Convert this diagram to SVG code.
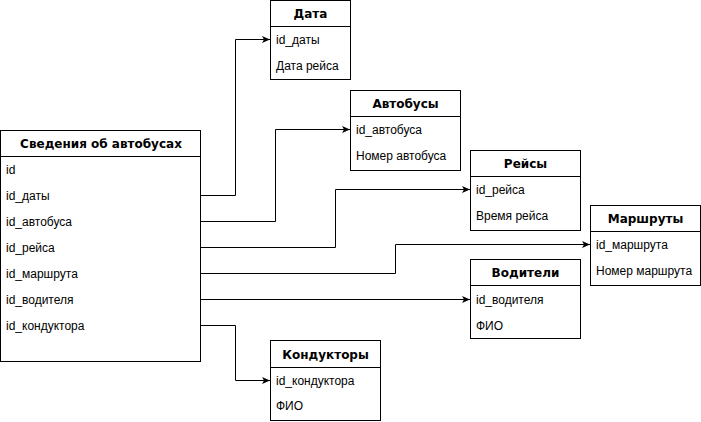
<svg xmlns="http://www.w3.org/2000/svg" width="701" height="422" viewBox="0 0 701 422">
<style>
.box{fill:#fff;stroke:#000;stroke-width:1}
.sep{stroke:#000;stroke-width:1}
.hd{font-family:"DejaVu Sans",sans-serif;font-weight:bold;font-size:12px;text-anchor:middle;fill:#000}
.tx{font-family:"Liberation Sans",Arial,sans-serif;font-size:12px;fill:#000}
.cn{fill:none;stroke:#000;stroke-width:1}
</style>
<defs>
<marker id="arr" markerWidth="9" markerHeight="8" refX="8" refY="3.5" orient="auto" markerUnits="userSpaceOnUse">
<path d="M0,0 L8,3.5 L0,7 L2,3.5 Z" fill="#000"/>
</marker>
</defs>
<rect width="701" height="422" fill="#fff"/>
<g id="connectors">
<path class="cn" d="M201,195.5 H235.5 V39.5 H270" marker-end="url(#arr)"/>
<path class="cn" d="M201,221.5 H275.5 V129.5 H350" marker-end="url(#arr)"/>
<path class="cn" d="M201,247.5 H335.5 V189.5 H470" marker-end="url(#arr)"/>
<path class="cn" d="M201,273.5 H395.5 V244.5 H590" marker-end="url(#arr)"/>
<path class="cn" d="M201,299.5 H470" marker-end="url(#arr)"/>
<path class="cn" d="M201,325.5 H235.5 V380.5 H270" marker-end="url(#arr)"/>
</g>
<g id="main">
<rect class="box" x="0.5" y="130.5" width="200" height="231"/>
<line class="sep" x1="0.5" y1="156.5" x2="200.5" y2="156.5"/>
<text class="hd" x="101" y="148">Сведения об автобусах</text>
<text class="tx" x="6" y="173.5">id</text>
<text class="tx" x="6" y="199.5">id_даты</text>
<text class="tx" x="6" y="225.5">id_автобуса</text>
<text class="tx" x="6" y="251.5">id_рейса</text>
<text class="tx" x="6" y="277.5">id_маршрута</text>
<text class="tx" x="6" y="303.5">id_водителя</text>
<text class="tx" x="6" y="329.5">id_кондуктора</text>
</g>
<g id="data">
<rect class="box" x="270.5" y="0.5" width="80" height="79"/>
<line class="sep" x1="270.5" y1="26.5" x2="350.5" y2="26.5"/>
<text class="hd" x="310.5" y="18">Дата</text>
<text class="tx" x="276" y="43.5">id_даты</text>
<text class="tx" x="276" y="69.5">Дата рейса</text>
</g>
<g id="buses">
<rect class="box" x="350.5" y="90.5" width="110" height="80"/>
<line class="sep" x1="350.5" y1="116.5" x2="460.5" y2="116.5"/>
<text class="hd" x="405.5" y="108">Автобусы</text>
<text class="tx" x="356" y="133.5">id_автобуса</text>
<text class="tx" x="356" y="159.5">Номер автобуса</text>
</g>
<g id="trips">
<rect class="box" x="470.5" y="150.5" width="110" height="80"/>
<line class="sep" x1="470.5" y1="176.5" x2="580.5" y2="176.5"/>
<text class="hd" x="525.5" y="168">Рейсы</text>
<text class="tx" x="476" y="193.5">id_рейса</text>
<text class="tx" x="476" y="219.5">Время рейса</text>
</g>
<g id="routes">
<rect class="box" x="590.5" y="205.5" width="110" height="80"/>
<line class="sep" x1="590.5" y1="231.5" x2="700.5" y2="231.5"/>
<text class="hd" x="645.5" y="223">Маршруты</text>
<text class="tx" x="596" y="248.5">id_маршрута</text>
<text class="tx" x="596" y="274.5">Номер маршрута</text>
</g>
<g id="drivers">
<rect class="box" x="470.5" y="259.5" width="110" height="79"/>
<line class="sep" x1="470.5" y1="285.5" x2="580.5" y2="285.5"/>
<text class="hd" x="525.5" y="277">Водители</text>
<text class="tx" x="476" y="303.5">id_водителя</text>
<text class="tx" x="476" y="329.5">ФИО</text>
</g>
<g id="conductors">
<rect class="box" x="270.5" y="340.5" width="110" height="80"/>
<line class="sep" x1="270.5" y1="367.5" x2="380.5" y2="367.5"/>
<text class="hd" x="325.5" y="358.5">Кондукторы</text>
<text class="tx" x="276" y="384.5">id_кондуктора</text>
<text class="tx" x="276" y="410">ФИО</text>
</g>
</svg>
